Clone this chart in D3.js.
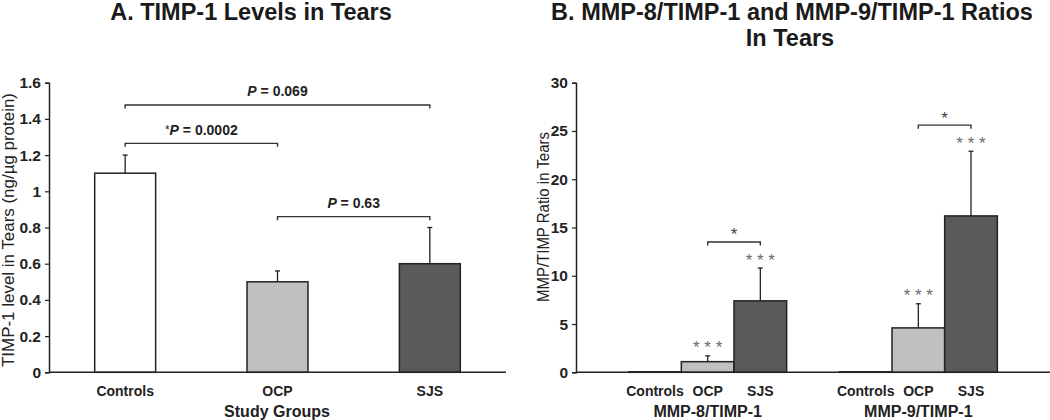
<!DOCTYPE html>
<html>
<head>
<meta charset="utf-8">
<script src="https://cdn.jsdelivr.net/npm/d3@7"></script>
<style>
  html, body { margin: 0; padding: 0; background: #fff; }
  svg { display: block; font-family: "Liberation Sans", Arial, sans-serif; }
</style>
</head>
<body>
<svg id="chart" width="1050" height="420"></svg>
<script>
// ---------- Data ----------
const groupsA = ["Controls", "OCP", "SJS"];
const timpMeans = [1.1, 0.5, 0.6];
const timpErrors = [0.1, 0.06, 0.2];
const yTicksA = [0, 0.2, 0.4, 0.6, 0.8, 1, 1.2, 1.4, 1.6];
const yTickLabelsA = ["0", "0.2", "0.4", "0.6", "0.8", "1", "1.2", "1.4", "1.6"];
const bracketFromA = ["Controls", "Controls", "OCP"];
const bracketToA = ["SJS", "OCP", "SJS"];
const bracketLevelA = [1.477, 1.265, 0.86];
const bracketStarA = ["", "*", ""];
const bracketPValueA = ["0.069", "0.0002", "0.63"];

const ratioGroups = ["MMP-8/TIMP-1", "MMP-9/TIMP-1"];
const seriesB = ["Controls", "OCP", "SJS"];
const mmp8Means = [0.05, 1.1, 7.4];
const mmp8Errors = [0, 0.6, 3.4];
const mmp9Means = [0.05, 4.6, 16.2];
const mmp9Errors = [0, 2.5, 6.7];
const starsB = ["", "* * *", "* * *"];
const yTicksB = [0, 5, 10, 15, 20, 25, 30];
const bracketLevelB = [13.5, 25.6];

const fills = ["#ffffff", "#c0c0c0", "#5a5a5a"];

// ---------- Setup ----------
const svg = d3.select("#chart");
const plotTop = 82.7, plotBottom = 372.3;
const ink = "#222";

function drawYAxis(g, y, x0, ticks, labels) {
  const ax = d3.axisLeft(y).tickValues(ticks).tickSize(4).tickPadding(4)
    .tickFormat((d, i) => labels ? labels[i] : d);
  const a = g.append("g").attr("transform", `translate(${x0},0)`).call(ax);
  a.select(".domain").attr("stroke", ink).attr("stroke-width", 1.5);
  a.selectAll(".tick line").attr("stroke", ink).attr("stroke-width", 1.2);
  a.selectAll(".tick text").attr("fill", "#222").attr("font-size", 15.5)
    .attr("font-weight", "bold").attr("font-family", "Liberation Sans, Arial, sans-serif");
}

function errorBar(g, x, yTop, yBar) {
  g.append("line").attr("x1", x).attr("x2", x).attr("y1", yBar).attr("y2", yTop)
    .attr("stroke", ink).attr("stroke-width", 1.3);
  g.append("line").attr("x1", x - 2.5).attr("x2", x + 2.5).attr("y1", yTop).attr("y2", yTop)
    .attr("stroke", ink).attr("stroke-width", 1.3);
}

function bracket(g, x1, x2, yb) {
  g.append("path")
    .attr("d", `M${x1},${yb + 3.5}V${yb}H${x2}V${yb + 3.5}`)
    .attr("fill", "none").attr("stroke", "#333").attr("stroke-width", 1.4);
}

// ---------- Panel A ----------
const gA = svg.append("g");
const xA = d3.scaleBand().domain(groupsA).range([49, 506]).paddingInner(0.6).paddingOuter(0.3);
const yA = d3.scaleLinear().domain([0, 1.6]).range([plotBottom, plotTop]);

gA.selectAll("rect.bar").data(groupsA).join("rect")
  .attr("x", d => xA(d)).attr("width", xA.bandwidth())
  .attr("y", (d, i) => yA(timpMeans[i]))
  .attr("height", (d, i) => yA(0) - yA(timpMeans[i]))
  .attr("fill", (d, i) => fills[i]).attr("stroke", ink).attr("stroke-width", 1.5);

groupsA.forEach((d, i) => {
  const cx = xA(d) + xA.bandwidth() / 2;
  errorBar(gA, cx, yA(timpMeans[i] + timpErrors[i]), yA(timpMeans[i]));
});

drawYAxis(gA, yA, 49, yTicksA, yTickLabelsA);
gA.append("line").attr("x1", 49).attr("x2", 506).attr("y1", yA(0)).attr("y2", yA(0))
  .attr("stroke", ink).attr("stroke-width", 1.5);

gA.selectAll("text.cat").data(groupsA).join("text")
  .attr("x", d => xA(d) + xA.bandwidth() / 2).attr("y", 395.5)
  .attr("text-anchor", "middle").attr("font-size", 14).attr("font-weight", "bold")
  .attr("fill", "#222").text(d => d);

gA.append("text").attr("x", 277).attr("y", 417).attr("text-anchor", "middle")
  .attr("font-size", 16).attr("font-weight", "bold").attr("fill", "#222").text("Study Groups");

gA.append("text").attr("transform", "translate(13.5,230) rotate(-90)")
  .attr("text-anchor", "middle").attr("font-size", 16.5).attr("fill", "#222")
  .attr("textLength", 274).attr("lengthAdjust", "spacingAndGlyphs")
  .text("TIMP-1 level in Tears (ng/µg protein)");

bracketFromA.forEach((f, i) => {
  const x1 = xA(f) + xA.bandwidth() / 2;
  const x2 = xA(bracketToA[i]) + xA.bandwidth() / 2;
  const yb = yA(bracketLevelA[i]);
  bracket(gA, x1, x2, yb);
  const t = gA.append("text").attr("x", (x1 + x2) / 2).attr("y", yb - 8.5)
    .attr("text-anchor", "middle").attr("font-size", 14).attr("font-weight", "bold").attr("fill", "#222");
  if (bracketStarA[i]) t.append("tspan").attr("font-weight", "normal").attr("font-size", 12).attr("dy", -1).text(bracketStarA[i]);
  t.append("tspan").attr("font-style", "italic").attr("dy", bracketStarA[i] ? 1 : 0).text("P");
  t.append("tspan").text(" = " + bracketPValueA[i]);
});

svg.append("text").attr("x", 251).attr("y", 19.5).attr("text-anchor", "middle")
  .attr("font-size", 23.5).attr("font-weight", "bold").attr("fill", "#1a1a1a")
  .text("A. TIMP-1 Levels in Tears");

// ---------- Panel B ----------
const gB = svg.append("g");
const x0B = d3.scaleBand().domain(ratioGroups).range([576, 1050]).paddingInner(0.25).paddingOuter(0.25);
const x1B = d3.scaleBand().domain(seriesB).range([0, x0B.bandwidth()]).padding(0);
const yB = d3.scaleLinear().domain([0, 30]).range([plotBottom, plotTop]);

const meansB = [mmp8Means, mmp9Means];
const errorsB = [mmp8Errors, mmp9Errors];

ratioGroups.forEach((grp, gi) => {
  const gx = x0B(grp);
  const gg = gB.append("g").attr("transform", `translate(${gx},0)`);
  gg.selectAll("rect").data(seriesB).join("rect")
    .attr("x", d => x1B(d)).attr("width", x1B.bandwidth())
    .attr("y", (d, i) => yB(meansB[gi][i]))
    .attr("height", (d, i) => yB(0) - yB(meansB[gi][i]))
    .attr("fill", (d, i) => fills[i]).attr("stroke", ink).attr("stroke-width", 1.5);
  seriesB.forEach((s, i) => {
    const cx = x1B(s) + x1B.bandwidth() / 2;
    if (errorsB[gi][i] > 0) {
      const yt = yB(meansB[gi][i] + errorsB[gi][i]);
      errorBar(gg, cx, yt, yB(meansB[gi][i]));
      gg.append("text").attr("x", cx).attr("y", yt - 2.5).attr("text-anchor", "middle")
        .attr("font-size", 17).attr("fill", "#6a6a6a").text(starsB[i]);
    }
    gg.append("text").attr("x", cx).attr("y", 395.5).attr("text-anchor", "middle")
      .attr("font-size", 14).attr("font-weight", "bold").attr("fill", "#222").text(s);
  });
  const bx1 = x1B("OCP") + x1B.bandwidth() / 2;
  const bx2 = x1B("SJS") + x1B.bandwidth() / 2;
  const by = yB(bracketLevelB[gi]);
  bracket(gg, bx1, bx2, by);
  gg.append("text").attr("x", (bx1 + bx2) / 2).attr("y", by - 1.5).attr("text-anchor", "middle")
    .attr("font-size", 17).attr("fill", "#444").text("*");
  gg.append("text").attr("x", x0B.bandwidth() / 2).attr("y", 417).attr("text-anchor", "middle")
    .attr("font-size", 16).attr("font-weight", "bold").attr("fill", "#222").text(grp);
});

drawYAxis(gB, yB, 576, yTicksB, null);
gB.append("line").attr("x1", 576).attr("x2", 1050).attr("y1", yB(0)).attr("y2", yB(0))
  .attr("stroke", ink).attr("stroke-width", 1.5);

gB.append("text").attr("transform", "translate(548.5,217) rotate(-90)")
  .attr("text-anchor", "middle").attr("font-size", 16.5).attr("fill", "#222")
  .attr("textLength", 170).attr("lengthAdjust", "spacingAndGlyphs")
  .text("MMP/TIMP Ratio in Tears");

const tB = svg.append("text").attr("x", 792).attr("y", 19.5).attr("text-anchor", "middle")
  .attr("font-size", 23.5).attr("font-weight", "bold").attr("fill", "#1a1a1a");
tB.append("tspan").attr("x", 792).text("B. MMP-8/TIMP-1 and MMP-9/TIMP-1 Ratios");
tB.append("tspan").attr("x", 790).attr("dy", 26).text("In Tears");
</script>
</body>
</html>
